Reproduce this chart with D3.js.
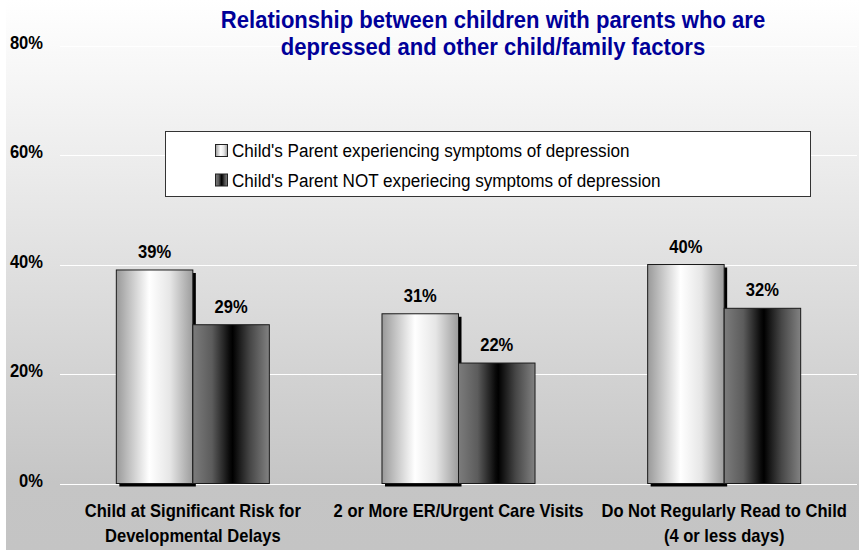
<!DOCTYPE html>
<html>
<head>
<meta charset="utf-8">
<script src="https://cdn.jsdelivr.net/npm/d3@7"></script>
<style>
  html, body { margin: 0; padding: 0; background: #fff; }
  svg { display: block; }
  text { font-family: "Liberation Sans", Arial, sans-serif; }
</style>
</head>
<body>
<div id="chart"></div>
<script>
const categories = [
  ["Child at Significant Risk for", "Developmental Delays"],
  ["2 or More ER/Urgent Care Visits"],
  ["Do Not Regularly Read to Child", "(4 or less days)"],
];
const seriesNames = [
  "Child's Parent experiencing symptoms of depression",
  "Child's Parent NOT experiecing symptoms of depression",
];
const depressed = [0.39, 0.31, 0.40];
const notDepressed = [0.29, 0.22, 0.32];
const yTicks = [0, 0.2, 0.4, 0.6, 0.8];
const titleLines = [
  "Relationship between children with parents who are",
  "depressed and other child/family factors",
];

const W = 859, H = 550;
const sx = 0.92; // glyphs look slightly condensed in the reference

const svg = d3.select("#chart").append("svg")
  .attr("width", W).attr("height", H)
  .attr("viewBox", `0 0 ${W} ${H}`);

const defs = svg.append("defs");

const bg = defs.append("linearGradient").attr("id", "bg")
  .attr("x1", 0).attr("y1", 0).attr("x2", 0).attr("y2", 1);
[[0, "#ffffff"], [0.3, "#ececec"], [0.88, "#c5c5c5"], [1, "#c4c4c4"]]
  .forEach(([o, c]) => bg.append("stop").attr("offset", o).attr("stop-color", c));

const gLight = defs.append("linearGradient").attr("id", "gLight")
  .attr("x1", 0).attr("y1", 0).attr("x2", 1).attr("y2", 0);
[[0, "#999999"], [0.15, "#bdbdbd"], [0.43, "#ffffff"], [0.7, "#e6e6e6"], [1, "#9c9c9c"]]
  .forEach(([o, c]) => gLight.append("stop").attr("offset", o).attr("stop-color", c));

const gDark = defs.append("linearGradient").attr("id", "gDark")
  .attr("x1", 0).attr("y1", 0).attr("x2", 1).attr("y2", 0);
[[0, "#7c7c7c"], [0.25, "#5c5c5c"], [0.48, "#0a0a0a"], [0.52, "#000000"], [0.75, "#474747"], [1, "#828282"]]
  .forEach(([o, c]) => gDark.append("stop").attr("offset", o).attr("stop-color", c));

const fills = ["url(#gLight)", "url(#gDark)"];

svg.append("rect")
  .attr("x", 6).attr("y", 0).attr("width", W - 6).attr("height", H)
  .attr("fill", "url(#bg)");

const x0 = d3.scaleBand()
  .domain(d3.range(categories.length))
  .range([60, 857])
  .paddingInner(0.424)
  .paddingOuter(0.212);

const x1 = d3.scaleBand()
  .domain([0, 1])
  .range([0, x0.bandwidth()]);

const y = d3.scaleLinear().domain([0, 0.8]).range([483.5, 45.5]);

function label(g, x, yy, str, size, weight, anchor, fill) {
  return g.append("text")
    .attr("transform", `translate(${x},${yy}) scale(${sx},1)`)
    .attr("text-anchor", anchor)
    .attr("font-size", size)
    .attr("font-weight", weight)
    .attr("fill", fill || "#000")
    .text(str);
}

// gridlines
svg.append("g")
  .selectAll("line")
  .data(yTicks)
  .join("line")
  .attr("x1", 60).attr("x2", 857)
  .attr("y1", d => Math.round(y(d)) + 0.5)
  .attr("y2", d => Math.round(y(d)) + 0.5)
  .attr("stroke", "#ffffff")
  .attr("stroke-width", 1.2);

// y tick labels
const gy = svg.append("g");
yTicks.forEach(t => {
  label(gy, 43, y(t) + 3, d3.format(".0%")(t), 18, "bold", "end");
});

// bars
const rows = categories.map((c, i) => [depressed[i], notDepressed[i]]);
const gBars = svg.append("g");

rows.forEach((vals, i) => {
  const g = gBars.append("g").attr("transform", `translate(${x0(i)},0)`);
  // drop shadow only behind the first series
  g.append("rect")
    .attr("x", x1(0) + 3).attr("y", y(vals[0]) + 3)
    .attr("width", x1.bandwidth()).attr("height", y(0) - y(vals[0]))
    .attr("fill", "#000");
  vals.forEach((v, j) => {
    g.append("rect")
      .attr("x", x1(j)).attr("y", y(v))
      .attr("width", x1.bandwidth()).attr("height", y(0) - y(v))
      .attr("fill", fills[j])
      .attr("stroke", "#1a1a1a").attr("stroke-width", 1);
  });
  vals.forEach((v, j) => {
    label(g, x1(j) + x1.bandwidth() / 2, y(v) - 12, d3.format(".0%")(v), 18, "bold", "middle");
  });
});

// category labels
const gx = svg.append("g");
categories.forEach((lines, i) => {
  const cx = x0(i) + x0.bandwidth() / 2;
  lines.forEach((ln, k) => label(gx, cx, 517 + k * 25, ln, 18, "bold", "middle"));
});

// title
const gt = svg.append("g");
titleLines.forEach((ln, k) => label(gt, 493, 28 + k * 27, ln, 24, "bold", "middle", "#000099"));

// legend
const lg = svg.append("g");
lg.append("rect")
  .attr("x", 165.5).attr("y", 131.5).attr("width", 645).attr("height", 65)
  .attr("fill", "#fff").attr("stroke", "#333").attr("stroke-width", 1);
seriesNames.forEach((name, j) => {
  const yy = 157 + j * 29.5;
  lg.append("rect")
    .attr("x", 215.5).attr("y", yy - 12.5).attr("width", 12).attr("height", 12)
    .attr("fill", fills[j]).attr("stroke", "#222").attr("stroke-width", 1);
  lg.append("text")
    .attr("transform", `translate(232,${yy}) scale(0.9,1)`)
    .attr("font-size", 19)
    .attr("fill", "#000")
    .text(name);
});
</script>
</body>
</html>
